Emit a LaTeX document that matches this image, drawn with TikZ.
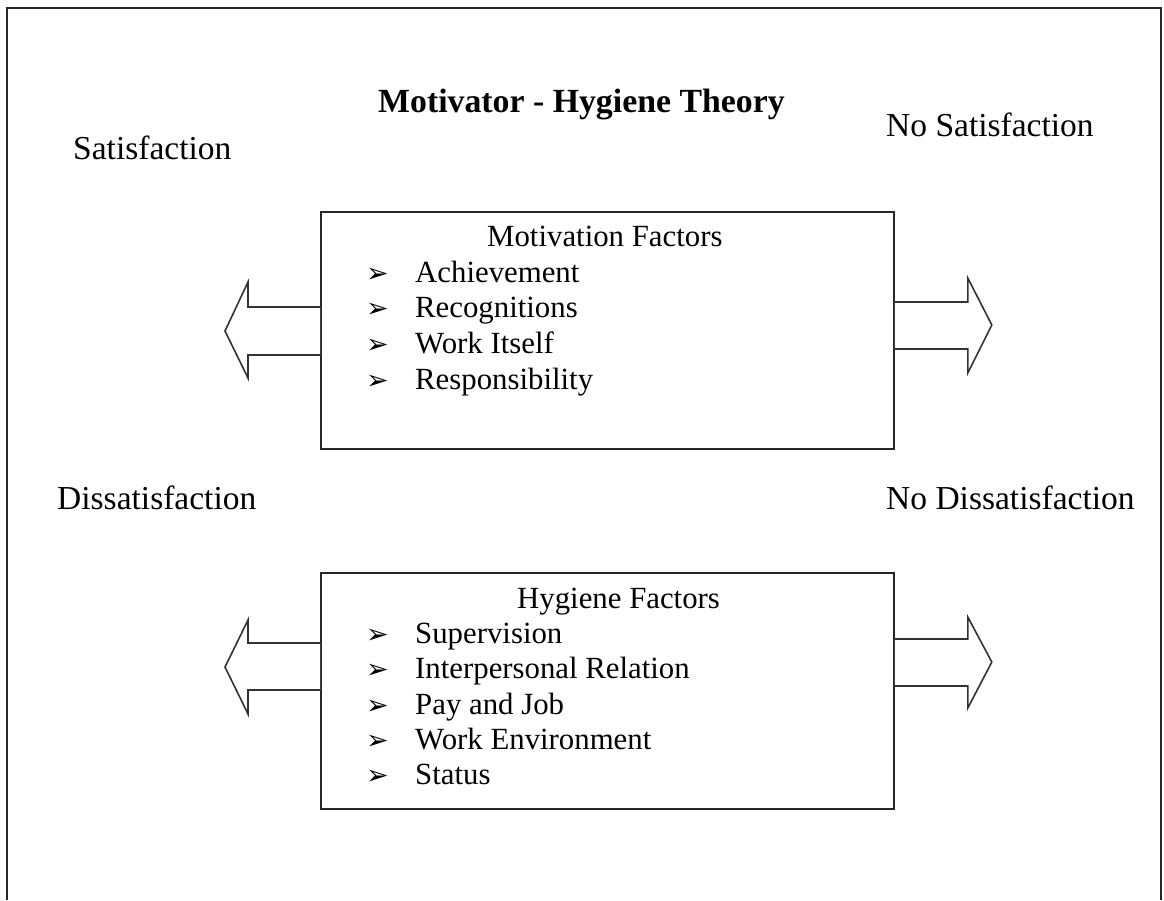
\documentclass[tikz,border=0pt]{standalone}
\usepackage{fontspec}
\setmainfont{Liberation Serif}
\newfontfamily\symfont{DejaVu Sans}
\begin{document}
\begin{tikzpicture}[x=1pt,y=-1pt,
  frame/.style={draw=black!85,line width=1.8pt},
  factorbox/.style={draw=black!85,line width=1.8pt,minimum width=573pt,anchor=north west,inner sep=0pt},
  lbl/.style={anchor=mid west,inner sep=0pt,font=\fontsize{33.5}{38}\selectfont},
  item/.style={anchor=mid west,inner sep=0pt,font=\fontsize{30.8}{36}\selectfont},
  bul/.style={anchor=mid west,inner sep=0pt,font=\symfont\fontsize{27}{30}\selectfont},
  fat/.style={draw=black!80,line width=1.6pt,fill=white,line join=miter}]
\useasboundingbox (0,0) rectangle (1164,900);
% outer frame (open at the bottom)
\draw[frame] (7,900) -- (7,8) -- (1161,8) -- (1161,900);
% title and labels
\node[lbl,font=\bfseries\fontsize{33.8}{38}\selectfont] (title) at (378,110) {Motivator - Hygiene Theory};
\node[lbl] (sat) at (73,157) {Satisfaction};
\node[lbl] (nosat) at (886,134) {No Satisfaction};
\node[lbl] (dis) at (57,507) {Dissatisfaction};
\node[lbl] (nodis) at (886,507) {No Dissatisfaction};
% boxes
\node[factorbox,minimum height=237pt] (mbox) at (320,211) {};
\node[factorbox,minimum height=236pt] (hbox) at (320,572) {};
% motivation factors
\node[item] (mhead) at (487,244) {Motivation Factors};
\foreach \t [count=\i] in {Achievement,Recognitions,Work Itself,Responsibility}{
  \node[bul] (mb\i) at (366,244+35.7*\i) {➢};
  \node[item] (mi\i) at (415,244+35.7*\i) {\t};
}
% hygiene factors
\node[item] (hhead) at (517,606) {Hygiene Factors};
\foreach \t [count=\i] in {Supervision,Interpersonal Relation,Pay and Job,Work Environment,Status}{
  \node[bul] (hb\i) at (366,606+35.3*\i) {➢};
  \node[item] (hi\i) at (415,606+35.3*\i) {\t};
}
% arrows
\coordinate (ml) at (mbox.west |- 0,331);
\coordinate (mr) at (mbox.east |- 0,325);
\coordinate (hl) at (hbox.west |- 0,666);
\coordinate (hr) at (hbox.east |- 0,662);
\draw[fat] (ml) ++(0,-24) -- ++(-72,0) -- ++(0,-25) -- ++(-23,49) -- ++(23,47) -- ++(0,-23) -- ++(72,0);
\draw[fat] (mr) ++(0,-23) -- ++(73,0) -- ++(0,-24) -- ++(24,47) -- ++(-24,48) -- ++(0,-24) -- ++(-73,0);
\draw[fat] (hl) ++(0,-23) -- ++(-72,0) -- ++(0,-23) -- ++(-23,47) -- ++(23,47) -- ++(0,-24) -- ++(72,0);
\draw[fat] (hr) ++(0,-23) -- ++(73,0) -- ++(0,-22) -- ++(24,45) -- ++(-24,46) -- ++(0,-22) -- ++(-73,0);
\end{tikzpicture}
\end{document}
